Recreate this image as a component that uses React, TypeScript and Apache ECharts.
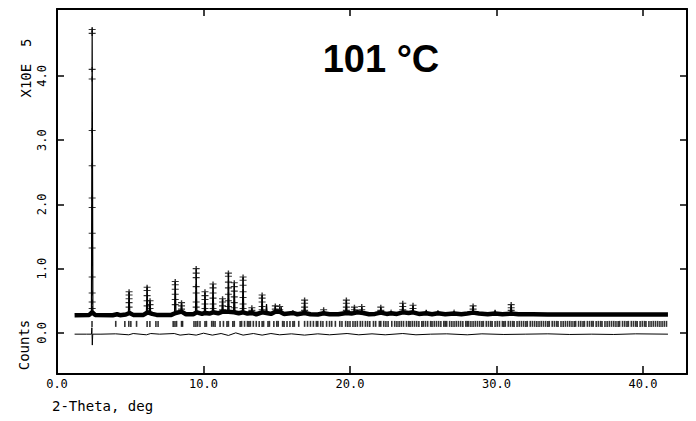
import React, { useEffect, useRef } from "react";
import * as echarts from "echarts";

// ---- data (2-Theta in deg, counts in units of 1E5) ----
const xTicks = [0, 10, 20, 30, 40];
const yTicks = [0, 1, 2, 3, 4];

// dense observed band along the background (drawn as a thick line)
const bandPoints: [number, number][] = [
  [1.2, 0.275], [2.2, 0.28], [2.4, 0.32], [2.6, 0.28], [3.8, 0.275], [4.1, 0.29], [4.3, 0.275],
  [4.7, 0.285], [4.95, 0.31], [5.2, 0.28], [5.9, 0.28], [6.2, 0.32], [6.5, 0.295], [6.8, 0.28],
  [7.8, 0.28], [8.1, 0.31], [8.5, 0.33], [8.8, 0.29], [9.3, 0.29], [9.55, 0.32], [9.9, 0.295],
  [10.1, 0.31], [10.4, 0.3], [10.65, 0.32], [11.0, 0.305], [11.3, 0.33], [11.7, 0.33], [12.1, 0.32],
  [12.4, 0.305], [12.7, 0.32], [13.0, 0.3], [13.3, 0.31], [13.6, 0.29], [14.0, 0.32], [14.3, 0.31],
  [14.6, 0.295], [14.9, 0.33], [15.2, 0.33], [15.5, 0.295], [16.1, 0.31], [16.4, 0.29], [16.9, 0.31],
  [17.3, 0.29], [17.8, 0.285], [18.2, 0.305], [18.6, 0.29], [19.2, 0.29], [19.75, 0.31], [20.1, 0.3],
  [20.5, 0.32], [20.9, 0.31], [21.3, 0.29], [21.7, 0.295], [22.1, 0.315], [22.5, 0.295], [22.8, 0.305],
  [23.2, 0.295], [23.6, 0.32], [24.0, 0.31], [24.3, 0.32], [24.7, 0.295], [25.2, 0.305], [25.6, 0.29],
  [26.0, 0.305], [26.5, 0.29], [27.1, 0.3], [27.6, 0.29], [28.0, 0.3], [28.4, 0.315], [28.8, 0.3],
  [29.4, 0.29], [29.9, 0.3], [30.4, 0.29], [31.0, 0.3], [31.5, 0.29], [32.5, 0.29], [33.5, 0.285],
  [35.0, 0.285], [37.0, 0.285], [39.0, 0.285], [41.7, 0.285],
];

// calculated peak positions and heights
const peakPos = [2.4, 4.1, 4.92, 6.15, 6.35, 8.07, 8.5, 9.5, 10.1, 10.65, 11.3, 11.7, 12.1, 12.7, 13.3,
  14.0, 14.3, 14.9, 15.3, 16.1, 16.9, 18.2, 19.75, 20.3, 20.8, 22.1, 22.8, 23.6, 24.3, 25.2, 26.0,
  27.1, 28.4, 29.9, 31.0];
const peakHeight = [4.74, 0.31, 0.64, 0.72, 0.5, 0.8, 0.47, 1.0, 0.64, 0.76, 0.53, 0.93, 0.78, 0.87, 0.38,
  0.59, 0.45, 0.42, 0.4, 0.35, 0.51, 0.36, 0.51, 0.4, 0.4, 0.4, 0.34, 0.46, 0.43, 0.36, 0.35,
  0.34, 0.42, 0.36, 0.44];

// observed "+" points on the peaks: position and the heights of the stacked points
const obsPos = [2.4, 4.92, 6.15, 6.35, 8.07, 8.5, 9.5, 10.1, 10.65, 11.3, 11.7, 12.1, 12.7, 13.3, 14.0,
  14.9, 15.2, 16.9, 18.2, 19.75, 20.3, 20.8, 22.1, 23.6, 24.3, 28.4, 31.0];
const obsHeights: number[][] = [
  [4.72, 4.66, 4.1, 3.95, 3.15, 2.6, 2.1, 1.95, 1.55, 1.32, 0.87, 0.62, 0.48, 0.38],
  [0.64, 0.59, 0.53, 0.47, 0.4],
  [0.71, 0.66, 0.58, 0.5, 0.42],
  [0.5, 0.44, 0.38],
  [0.8, 0.75, 0.68, 0.6, 0.52, 0.44],
  [0.47, 0.42, 0.37],
  [1.0, 0.93, 0.86, 0.72, 0.62, 0.48, 0.4],
  [0.64, 0.58, 0.52, 0.45, 0.38],
  [0.76, 0.7, 0.62, 0.54, 0.45, 0.38],
  [0.53, 0.48, 0.42, 0.36],
  [0.93, 0.88, 0.79, 0.7, 0.6, 0.5, 0.41],
  [0.78, 0.72, 0.65, 0.56, 0.47, 0.39],
  [0.87, 0.82, 0.74, 0.64, 0.55, 0.45, 0.38],
  [0.39, 0.35],
  [0.59, 0.54, 0.48, 0.41, 0.36],
  [0.42, 0.37],
  [0.41, 0.36],
  [0.51, 0.46, 0.4, 0.35],
  [0.36],
  [0.51, 0.46, 0.4, 0.35],
  [0.4, 0.36],
  [0.41, 0.36],
  [0.4, 0.35],
  [0.46, 0.41, 0.36],
  [0.43, 0.38],
  [0.42, 0.37],
  [0.44, 0.39, 0.35],
];

// reflection tick positions
const reflections = [
  2.39, 4.01, 4.63, 4.9, 5.04, 5.43, 6.15, 6.34, 6.75, 6.9, 7.93, 8.05, 8.16, 8.5, 8.57, 9.35, 9.48,
  9.6, 9.76, 10.1, 10.2, 10.56, 10.67, 10.79, 11.13, 11.36, 11.6, 11.7, 12.0, 12.1, 12.5, 12.6, 12.8,
  13.0, 13.1, 13.2, 13.4, 13.6, 13.8, 14.0, 14.1, 14.4, 14.5, 14.8, 15.0, 15.1, 15.4, 15.5, 15.7,
  15.9, 16.1, 16.2, 16.5, 16.9, 17.1, 17.3, 17.5, 17.7, 17.8, 18.0, 18.15, 18.4, 18.6, 18.75, 19.0,
  19.3, 19.45, 19.7, 19.85, 20.0, 20.2, 20.35, 20.5, 20.7, 20.85, 21.05, 21.2, 21.35, 21.6, 21.75,
  22.0, 22.1, 22.3, 22.45, 22.6, 22.85, 23.05, 23.2, 23.35, 23.5, 23.65, 23.85, 24.0, 24.1, 24.25,
  24.4, 24.55, 24.7, 24.9, 25.0, 25.15, 25.3, 25.5, 25.6, 25.75, 25.9, 26.05, 26.2, 26.4, 26.5,
  26.6, 26.8, 26.95, 27.1, 27.25, 27.4, 27.55, 27.7, 27.9, 28.0, 28.1, 28.25, 28.4, 28.55, 28.7,
  28.85, 29.0, 29.1, 29.3, 29.45, 29.6, 29.7, 29.9, 30.05, 30.2, 30.4, 30.5, 30.6, 30.8, 30.95,
  31.1, 31.2, 31.4, 31.55, 31.7, 31.85, 32.0, 32.1, 32.3, 32.45, 32.6, 32.75, 32.9, 33.05, 33.2,
  33.35, 33.5, 33.6, 33.8, 33.95, 34.1, 34.2, 34.4, 34.55, 34.7, 34.85, 35.0, 35.15, 35.3, 35.4,
  35.6, 35.75, 35.9, 36.0, 36.2, 36.35, 36.5, 36.6, 36.8, 36.95, 37.1, 37.2, 37.4, 37.55, 37.7,
  37.85, 38.0, 38.15, 38.3, 38.4, 38.6, 38.75, 38.9, 39.0, 39.2, 39.35, 39.5, 39.6, 39.8, 39.95,
  40.1, 40.2, 40.4, 40.55, 40.7, 40.85, 41.0, 41.15, 41.3, 41.45, 41.6,
];
const reflectionLevel = 0.14;

// difference curve (obs - calc)
const diffPoints: [number, number][] = [
  [1.2, -0.02], [2.0, -0.02], [2.35, -0.02], [2.38, 0.08], [2.41, -0.19], [2.44, -0.02],
  [3.0, -0.02], [4.0, -0.015], [4.9, -0.03], [5.2, -0.01], [6.1, -0.03], [6.4, -0.01], [7.0, -0.02],
  [8.0, -0.01], [8.4, -0.035], [9.0, -0.02], [9.5, -0.035], [10.0, -0.005], [10.6, -0.035],
  [11.2, -0.01], [11.7, -0.04], [12.2, 0.0], [12.7, -0.035], [13.4, -0.01], [14.0, -0.035],
  [14.6, -0.01], [15.2, -0.03], [16.0, -0.015], [16.9, -0.035], [17.8, -0.015], [18.6, -0.03],
  [19.8, -0.01], [20.6, -0.03], [21.5, -0.015], [22.4, -0.03], [23.6, -0.01], [24.5, -0.03],
  [25.5, -0.02], [26.6, -0.015], [28.0, -0.03], [29.0, -0.015], [30.5, -0.025], [32.0, -0.02],
  [33.5, -0.015], [35.0, -0.025], [36.5, -0.02], [38.0, -0.025], [39.5, -0.015], [41.7, -0.02],
];

const X_MIN = 0;
const X_MAX = 43;
const Y_MIN = -0.64;
const Y_MAX = 5.04;

const MONO = "'DejaVu Sans Mono', 'Liberation Mono', monospace";

export default function App() {
  const ref = useRef<HTMLDivElement>(null);

  useEffect(() => {
    if (!ref.current) return;
    const chart = echarts.init(ref.current, undefined, { renderer: "svg" });

    const spikeData = peakPos.map((x, i) => ({
      coords: [
        [x - 0.05, 0.3],
        [x, peakHeight[i]],
        [x + 0.05, 0.3],
      ],
    }));
    const obsData: [number, number][] = [];
    obsPos.forEach((x, i) => obsHeights[i].forEach((h) => obsData.push([x, h])));
    const reflData = reflections.map((x) => [x, reflectionLevel]);

    const axisLine = { show: true, onZero: false, lineStyle: { color: "#000", width: 2 } };
    const tickStyle = { color: "#000", width: 1.5 };

    chart.setOption({
      animation: false,
      backgroundColor: "#fff",
      grid: { left: 57, right: 9, top: 9, bottom: 47, containLabel: false },
      xAxis: [
        {
          type: "value",
          min: X_MIN,
          max: X_MAX,
          position: "bottom",
          axisLine,
          splitLine: { show: false },
          axisTick: { show: true, inside: true, length: 8, lineStyle: tickStyle, customValues: xTicks },
          axisLabel: {
            show: true,
            customValues: xTicks,
            formatter: (v: number) => v.toFixed(1),
            fontFamily: MONO,
            fontSize: 12,
            color: "#000",
            margin: 4,
          },
        },
        {
          type: "value",
          min: X_MIN,
          max: X_MAX,
          position: "top",
          axisLine,
          splitLine: { show: false },
          axisTick: { show: true, inside: true, length: 7, lineStyle: tickStyle, customValues: xTicks },
          axisLabel: { show: false },
        },
      ],
      yAxis: [
        {
          type: "value",
          min: Y_MIN,
          max: Y_MAX,
          position: "left",
          axisLine,
          splitLine: { show: false },
          axisTick: { show: true, inside: true, length: 7, lineStyle: tickStyle, customValues: yTicks },
          axisLabel: {
            show: true,
            customValues: yTicks,
            rotate: 90,
            formatter: (v: number) => v.toFixed(1),
            fontFamily: MONO,
            fontSize: 12,
            color: "#000",
            margin: 9,
          },
        },
        {
          type: "value",
          min: Y_MIN,
          max: Y_MAX,
          position: "right",
          axisLine,
          splitLine: { show: false },
          axisTick: { show: true, inside: true, length: 7, lineStyle: tickStyle, customValues: yTicks },
          axisLabel: { show: false },
        },
      ],
      series: [
        {
          type: "line",
          data: bandPoints,
          symbol: "none",
          lineStyle: { color: "#000", width: 4.5 },
          z: 2,
        },
        {
          type: "lines",
          coordinateSystem: "cartesian2d",
          polyline: true,
          data: spikeData,
          lineStyle: { color: "#000", width: 1.2, opacity: 1 },
          z: 3,
        },
        {
          type: "scatter",
          data: obsData,
          symbol: "path://M-1,-0.22 L1,-0.22 L1,0.22 L-1,0.22 Z M-0.2,-1 L0.2,-1 L0.2,1 L-0.2,1 Z",
          symbolSize: [7, 5],
          itemStyle: { color: "#000" },
          z: 4,
        },
        {
          type: "scatter",
          data: reflData,
          symbol: "rect",
          symbolSize: [1.6, 6],
          itemStyle: { color: "#000" },
          z: 2,
        },
        {
          type: "line",
          data: diffPoints,
          symbol: "none",
          lineStyle: { color: "#000", width: 1 },
          z: 2,
        },
      ],
      graphic: [
        {
          type: "text",
          x: 381,
          y: 59,
          style: {
            text: "101 °C",
            fontFamily: "'Liberation Sans', Arial, sans-serif",
            fontWeight: "bold",
            fontSize: 38,
            fill: "#000",
            align: "center",
            verticalAlign: "middle",
          },
        },
        {
          type: "text",
          x: 52,
          y: 406,
          style: {
            text: "2-Theta, deg",
            fontFamily: MONO,
            fontSize: 14,
            fill: "#000",
            align: "left",
            verticalAlign: "middle",
          },
        },
        {
          type: "text",
          x: 24,
          y: 345,
          rotation: Math.PI / 2,
          style: {
            text: "Counts",
            fontFamily: MONO,
            fontSize: 14,
            fill: "#000",
            align: "center",
            verticalAlign: "middle",
          },
        },
        {
          type: "text",
          x: 26,
          y: 68,
          rotation: Math.PI / 2,
          style: {
            text: "X10E  5",
            fontFamily: MONO,
            fontSize: 14,
            fill: "#000",
            align: "center",
            verticalAlign: "middle",
          },
        },
      ],
    });

    return () => chart.dispose();
  }, []);

  return <div ref={ref} style={{ width: 696, height: 421, position: "absolute", left: 0, top: 0 }} />;
}
